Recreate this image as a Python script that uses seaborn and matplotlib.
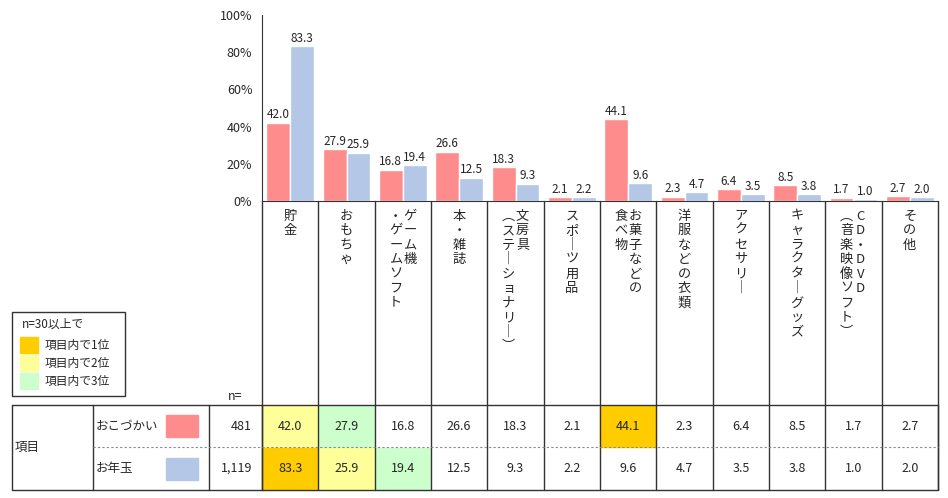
import matplotlib
matplotlib.use("Agg")
import matplotlib.pyplot as plt
import seaborn as sns
import pandas as pd
import numpy as np
from matplotlib.patches import Rectangle

categories = ["貯金", "おもちゃ", "ゲーム機・ゲームソフト", "本・雑誌", "文房具（ステーショナリー）",
              "スポーツ用品", "お菓子などの食べ物", "洋服などの衣類", "アクセサリー",
              "キャラクターグッズ", "CD・DVD（音楽映像ソフト）", "その他"]
# vertical label columns (right-to-left)
label_cols = [["貯金"], ["おもちゃ"], ["ゲーム機", "・ゲームソフト"], ["本・雑誌"],
              ["文房具", "︵ステ｜ショナリ｜︶"], ["スポ｜ツ用品"], ["お菓子などの", "食べ物"],
              ["洋服などの衣類"], ["アクセサリ｜"], ["キャラクタ｜グッズ"],
              ["CD・DVD", "︵音楽映像ソフト︶"], ["その他"]]
series = ["おこづかい", "お年玉"]
n_values = ["481", "1,119"]
okozukai = [42.0, 27.9, 16.8, 26.6, 18.3, 2.1, 44.1, 2.3, 6.4, 8.5, 1.7, 2.7]
otoshidama = [83.3, 25.9, 19.4, 12.5, 9.3, 2.2, 9.6, 4.7, 3.5, 3.8, 1.0, 2.0]
yticks = [0, 20, 40, 60, 80, 100]

colors = ["#FF8C8C", "#B4C7E7"]
rank_colors = ["#FFCC00", "#FFFF99", "#CCFFCC"]

sns.set_style("white")
plt.rcParams['font.family'] = ['Noto Sans CJK JP', 'DejaVu Sans']

W, H = 948, 498
fig = plt.figure(figsize=(9.48, 4.98), dpi=100)
bg = fig.add_axes([0, 0, 1, 1])
bg.set_xlim(0, W); bg.set_ylim(H, 0); bg.axis("off")

x0, x1, ytop, ybot = 262, 938, 15, 201
ax = fig.add_axes([x0 / W, 1 - ybot / H, (x1 - x0) / W, (ybot - ytop) / H])
ax.patch.set_alpha(0)

df = pd.DataFrame({"cat": categories * 2,
                   "series": [series[0]] * 12 + [series[1]] * 12,
                   "val": okozukai + otoshidama})
sns.barplot(data=df, x="cat", y="val", hue="series", palette=colors, width=0.85,
            ax=ax, legend=False, saturation=1)
for c in ax.containers:
    ax.bar_label(c, fmt="%.1f", fontsize=8.5, padding=1)
ax.set_ylim(0, 100)
ax.set_xlim(-0.5, 11.5)
ax.set_yticks(yticks)
ax.set_yticklabels([f"{v}%" for v in yticks], fontsize=9)
ax.set_xticks([]); ax.set_xlabel(""); ax.set_ylabel("")
for s in ["top", "right"]:
    ax.spines[s].set_visible(False)
ax.spines["left"].set_color("#333333"); ax.spines["bottom"].set_color("#333333")

colw = (x1 - x0) / 12
lc = "#333333"
# column separators
for i in range(13):
    xx = x0 + colw * i
    bg.plot([xx, xx], [ybot, 490], color=lc, lw=1)
# vertical labels
for i, cols in enumerate(label_cols):
    xc = x0 + colw * (i + 0.5)
    k = len(cols)
    for j, txt in enumerate(cols):
        xx = xc + (k - 1) * 7 - j * 14
        for m, ch in enumerate(txt):
            bg.text(xx, 216 + m * 14.5, ch, ha="center", va="center", fontsize=9.5)

# table
ty0, tmid, ty1 = 405, 447, 490
bg.plot([12, x1, x1, 12, 12], [ty0, ty0, ty1, ty1, ty0], color=lc, lw=1)
for xx in [93, 209, 262]:
    bg.plot([xx, xx], [ty0, ty1], color=lc, lw=1)
bg.plot([93, x1], [tmid, tmid], color="#888888", lw=0.8, ls=(0, (2, 2)))
bg.text(15, tmid, "項目", va="center", ha="left", fontsize=9)
bg.text(235, 396, "n=", va="center", ha="center", fontsize=9)
rows = [okozukai, otoshidama]
for r, vals in enumerate(rows):
    yc = (ty0 + tmid) / 2 if r == 0 else (tmid + ty1) / 2
    ya, yb = (ty0, tmid) if r == 0 else (tmid, ty1)
    bg.text(96, yc, series[r], va="center", ha="left", fontsize=9)
    bg.add_patch(Rectangle((166, yc - 11), 32, 22, color=colors[r]))
    bg.text(252, yc, n_values[r], va="center", ha="right", fontsize=9)
    order = np.argsort(vals)[::-1]
    for i, v in enumerate(vals):
        xa = x0 + colw * i
        rk = int(np.where(order == i)[0][0])
        if rk < 3:
            bg.add_patch(Rectangle((xa + 0.5, ya + 0.5), colw - 1, yb - ya - 1,
                                   color=rank_colors[rk], zorder=0))
        bg.text(xa + colw / 2, yc, f"{v:.1f}", va="center", ha="center", fontsize=9)

# legend box
bg.add_patch(Rectangle((12, 312), 113, 84, fill=False, ec=lc, lw=1))
bg.text(22, 324, "n=30以上で", va="center", ha="left", fontsize=8.5)
for k, lab in enumerate(["項目内で1位", "項目内で2位", "項目内で3位"]):
    yy = 345 + k * 18
    bg.add_patch(Rectangle((20, yy - 8), 18, 16, color=rank_colors[k]))
    bg.text(45, yy, lab, va="center", ha="left", fontsize=8.5)

fig.savefig("out.png", dpi=100)
